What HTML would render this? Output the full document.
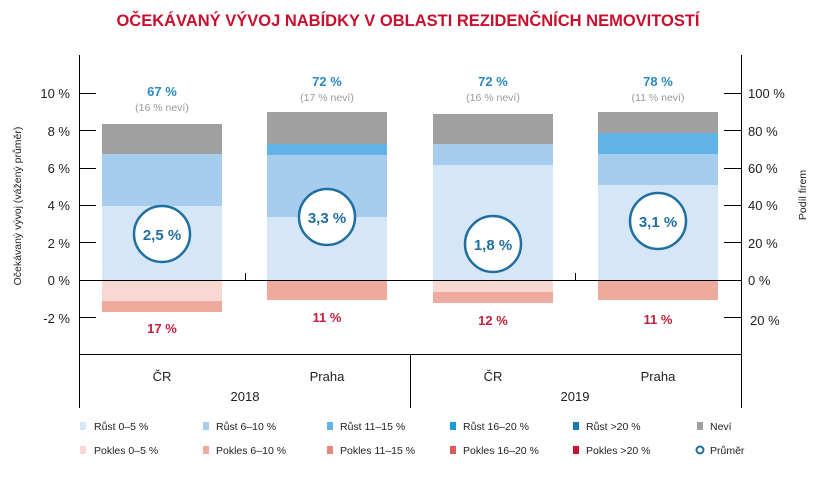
<!DOCTYPE html>
<html><head><meta charset="utf-8"><style>
body{margin:0;background:#fff;}
svg text{font-family:"Liberation Sans",sans-serif;}
</style></head><body>
<svg width="817" height="477" viewBox="0 0 817 477" xmlns="http://www.w3.org/2000/svg">
<text x="408" y="26" text-anchor="middle" font-size="16.5" font-weight="bold" fill="#c8102e">OČEKÁVANÝ VÝVOJ NABÍDKY V OBLASTI REZIDENČNÍCH NEMOVITOSTÍ</text>
<!-- bars -->
<g>
<rect x="102" y="124" width="120" height="30" fill="#a0a0a0"/>
<rect x="102" y="154" width="120" height="52" fill="#a6cdee"/>
<rect x="102" y="206" width="120" height="74" fill="#d5e6f6"/>
<rect x="102" y="280" width="120" height="21" fill="#f8d8d2"/>
<rect x="102" y="301" width="120" height="11" fill="#eeaa9d"/>

<rect x="267" y="112" width="120" height="32" fill="#a0a0a0"/>
<rect x="267" y="144" width="120" height="11" fill="#62b3e6"/>
<rect x="267" y="155" width="120" height="62" fill="#a6cdee"/>
<rect x="267" y="217" width="120" height="63" fill="#d5e6f6"/>
<rect x="267" y="280" width="120" height="20" fill="#eeaa9d"/>

<rect x="433" y="114" width="120" height="30" fill="#a0a0a0"/>
<rect x="433" y="144" width="120" height="21" fill="#a6cdee"/>
<rect x="433" y="165" width="120" height="115" fill="#d5e6f6"/>
<rect x="433" y="280" width="120" height="12" fill="#f8d8d2"/>
<rect x="433" y="292" width="120" height="11" fill="#eeaa9d"/>

<rect x="598" y="112" width="120" height="21" fill="#a0a0a0"/>
<rect x="598" y="133" width="120" height="21" fill="#62b3e6"/>
<rect x="598" y="154" width="120" height="31" fill="#a6cdee"/>
<rect x="598" y="185" width="120" height="95" fill="#d5e6f6"/>
<rect x="598" y="280" width="120" height="20" fill="#eeaa9d"/>
</g>
<!-- axes -->
<g stroke="#000" stroke-width="1">
<line x1="79.5" y1="55" x2="79.5" y2="408"/>
<line x1="741.5" y1="55" x2="741.5" y2="408"/>
<line x1="410.5" y1="354" x2="410.5" y2="408"/>
<line x1="79" y1="354.5" x2="741" y2="354.5"/>
<line x1="79" y1="280.5" x2="741" y2="280.5"/>
<line x1="245.5" y1="273" x2="245.5" y2="280"/>
<line x1="575.5" y1="273" x2="575.5" y2="280"/>
<line x1="79" y1="93.5" x2="96" y2="93.5"/><line x1="79" y1="130.5" x2="96" y2="130.5"/>
<line x1="79" y1="168.5" x2="96" y2="168.5"/><line x1="79" y1="205.5" x2="96" y2="205.5"/>
<line x1="79" y1="242.5" x2="96" y2="242.5"/><line x1="79" y1="317.5" x2="96" y2="317.5"/>
<line x1="724" y1="93.5" x2="741" y2="93.5"/><line x1="724" y1="130.5" x2="741" y2="130.5"/>
<line x1="724" y1="168.5" x2="741" y2="168.5"/><line x1="724" y1="205.5" x2="741" y2="205.5"/>
<line x1="724" y1="242.5" x2="741" y2="242.5"/><line x1="724" y1="317.5" x2="741" y2="317.5"/>
</g>
<g font-size="13" fill="#222" text-anchor="end">
<text x="70" y="98">10 %</text><text x="70" y="136">8 %</text><text x="70" y="173">6 %</text>
<text x="70" y="210">4 %</text><text x="70" y="248">2 %</text><text x="70" y="285">0 %</text><text x="70" y="323">-2 %</text>
</g>
<g font-size="13" fill="#222">
<text x="748" y="98">100 %</text><text x="748" y="136">80 %</text><text x="748" y="173">60 %</text>
<text x="748" y="210">40 %</text><text x="748" y="248">20 %</text><text x="748" y="285">0 %</text><text x="750" y="325">20 %</text>
</g>
<text transform="translate(21,206) rotate(-90)" text-anchor="middle" font-size="10.5" fill="#222">Očekávaný vývoj (vážený průměr)</text>
<text transform="translate(806,195) rotate(-90)" text-anchor="middle" font-size="10.5" fill="#222">Podíl firem</text>
<!-- top labels -->
<g text-anchor="middle">
<g font-size="13" font-weight="bold" fill="#2a8ac4">
<text x="162" y="96">67 %</text><text x="327" y="86">72 %</text><text x="493" y="86">72 %</text><text x="658" y="86">78 %</text></g>
<g font-size="10.5" fill="#999">
<text x="162" y="111">(16 % neví)</text><text x="327" y="101">(17 % neví)</text><text x="493" y="101">(16 % neví)</text><text x="658" y="101">(11 % neví)</text></g>
<g font-size="13" font-weight="bold" fill="#c41e3a">
<text x="162" y="333">17 %</text><text x="327" y="322">11 %</text><text x="493" y="325">12 %</text><text x="658" y="324">11 %</text></g>
</g>
<!-- circles -->
<g fill="#fff" stroke="#1f6fa0" stroke-width="2.5">
<circle cx="162" cy="234" r="28"/><circle cx="327" cy="217" r="28"/>
<circle cx="493" cy="244" r="28"/><circle cx="658" cy="221" r="28"/>
</g>
<g text-anchor="middle" font-size="15" font-weight="bold" fill="#1f6fa0">
<text x="162" y="240">2,5 %</text><text x="327" y="223">3,3 %</text><text x="493" y="250">1,8 %</text><text x="658" y="227">3,1 %</text>
</g>
<!-- categories -->
<g text-anchor="middle" font-size="13" fill="#222">
<text x="162" y="381">ČR</text><text x="327" y="381">Praha</text><text x="493" y="381">ČR</text><text x="658" y="381">Praha</text>
<text x="245" y="401">2018</text><text x="575" y="401">2019</text>
</g>
<!-- legend -->
<g font-size="10.5" fill="#222">
<rect x="80" y="422" width="6" height="8" fill="#d5e6f6"/><text x="94" y="430">Růst 0–5 %</text>
<rect x="203" y="422" width="6" height="8" fill="#a6cdee"/><text x="216" y="430">Růst 6–10 %</text>
<rect x="327" y="422" width="6" height="8" fill="#62b3e6"/><text x="340" y="430">Růst 11–15 %</text>
<rect x="450" y="422" width="6" height="8" fill="#1c9bd8"/><text x="463" y="430">Růst 16–20 %</text>
<rect x="573" y="422" width="6" height="8" fill="#1778b8"/><text x="586" y="430">Růst &gt;20 %</text>
<rect x="697" y="422" width="6" height="8" fill="#a0a0a0"/><text x="710" y="430">Neví</text>
<rect x="80" y="446" width="6" height="8" fill="#f8d8d2"/><text x="94" y="454">Pokles 0–5 %</text>
<rect x="203" y="446" width="6" height="8" fill="#eeaa9d"/><text x="216" y="454">Pokles 6–10 %</text>
<rect x="327" y="446" width="6" height="8" fill="#e6887a"/><text x="340" y="454">Pokles 11–15 %</text>
<rect x="450" y="446" width="6" height="8" fill="#d85a5a"/><text x="463" y="454">Pokles 16–20 %</text>
<rect x="573" y="446" width="6" height="8" fill="#c8102e"/><text x="586" y="454">Pokles &gt;20 %</text>
<circle cx="700" cy="450" r="3.5" fill="none" stroke="#1f6fa0" stroke-width="2"/><text x="710" y="454">Průměr</text>
</g>
</svg>
</body></html>
